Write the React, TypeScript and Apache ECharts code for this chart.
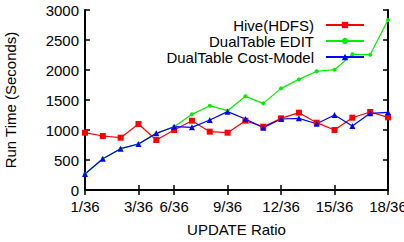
import React, { useEffect, useRef } from "react";
import * as echarts from "echarts";

const categories = ["1/36", "p2", "p3", "3/36", "p5", "6/36", "p7", "p8", "9/36", "p10", "p11", "12/36", "p13", "p14", "15/36", "p16", "p17", "18/36"];
const hive = [955, 900, 872, 1100, 833, 1000, 1155, 972, 955, 1155, 1055, 1194, 1289, 1122, 1000, 1205, 1300, 1211];
const edit = [267, 522, 689, 767, 944, 1055, 1261, 1405, 1322, 1561, 1444, 1694, 1844, 1978, 2005, 2261, 2255, 2833];
const costModel = [267, 522, 689, 767, 944, 1055, 1044, 1167, 1306, 1183, 1039, 1183, 1194, 1105, 1250, 1067, 1278, 1294];
const yTicks = { min: 0, max: 3000, interval: 500 };

const isTick = (i: number) => categories[i].includes("/");
const FONT = "Liberation Sans, Arial, sans-serif";

export default function App() {
  const ref = useRef<HTMLDivElement>(null);
  useEffect(() => {
    if (!ref.current) return;
    const chart = echarts.init(ref.current, null, { renderer: "svg" });
    const axisLine = { show: true, lineStyle: { color: "#000", width: 2 } };
    const tick = { show: true, inside: true, length: 5, lineStyle: { color: "#000", width: 1.5 } };
    chart.setOption({
      animation: false,
      textStyle: { fontFamily: FONT },
      grid: { left: 85, right: 16, top: 10, bottom: 52, outerBoundsMode: "none", containLabel: false },
      legend: {
        orient: "vertical",
        right: 34,
        top: 12,
        align: "right",
        itemWidth: 38,
        itemHeight: 8,
        itemGap: 0,
        textStyle: { fontSize: 15, color: "#000", fontFamily: FONT, padding: [0, 7, 0, 0], lineHeight: 16 },
        data: ["Hive(HDFS)", "DualTable EDIT", "DualTable Cost-Model"],
      },
      xAxis: [
        {
          type: "category",
          data: categories,
          boundaryGap: false,
          name: "UPDATE Ratio",
          nameLocation: "middle",
          nameGap: 32,
          nameTextStyle: { fontSize: 15, color: "#000", fontFamily: FONT },
          axisLine,
          axisTick: { ...tick, interval: (i: number) => isTick(i) },
          axisLabel: {
            interval: (i: number) => isTick(i),
            fontSize: 15,
            color: "#000",
            margin: 9,
            fontFamily: FONT,
            hideOverlap: false,
          },
          splitLine: { show: false },
        },
        {
          type: "category",
          data: categories,
          boundaryGap: false,
          position: "top",
          axisLine,
          axisTick: { ...tick, interval: (i: number) => isTick(i) },
          axisLabel: { show: false },
          splitLine: { show: false },
        },
      ],
      yAxis: [
        {
          type: "value",
          ...yTicks,
          name: "Run Time (Seconds)",
          nameLocation: "middle",
          nameGap: 67,
          nameTextStyle: { fontSize: 15, color: "#000", fontFamily: FONT },
          axisLine,
          axisTick: tick,
          axisLabel: { fontSize: 15, color: "#000", margin: 6, fontFamily: FONT, formatter: (v: number) => String(v) },
          splitLine: { show: false },
        },
        {
          type: "value",
          ...yTicks,
          position: "right",
          axisLine,
          axisTick: tick,
          axisLabel: { show: false },
          splitLine: { show: false },
        },
      ],
      series: [
        {
          name: "Hive(HDFS)",
          type: "line",
          data: hive,
          symbol: "rect",
          symbolSize: 6,
          color: "#ff0000",
          lineStyle: { width: 1.2 },
        },
        {
          name: "DualTable EDIT",
          type: "line",
          data: edit,
          symbol: "circle",
          symbolSize: 4,
          color: "#00ee00",
          lineStyle: { width: 1.2 },
        },
        {
          name: "DualTable Cost-Model",
          type: "line",
          data: costModel,
          symbol: "triangle",
          symbolSize: 6,
          color: "#0000ff",
          lineStyle: { width: 1.2 },
        },
      ],
    });
    return () => chart.dispose();
  }, []);
  return <div ref={ref} style={{ width: 404, height: 242, position: "absolute", left: 0, top: 0 }} />;
}
